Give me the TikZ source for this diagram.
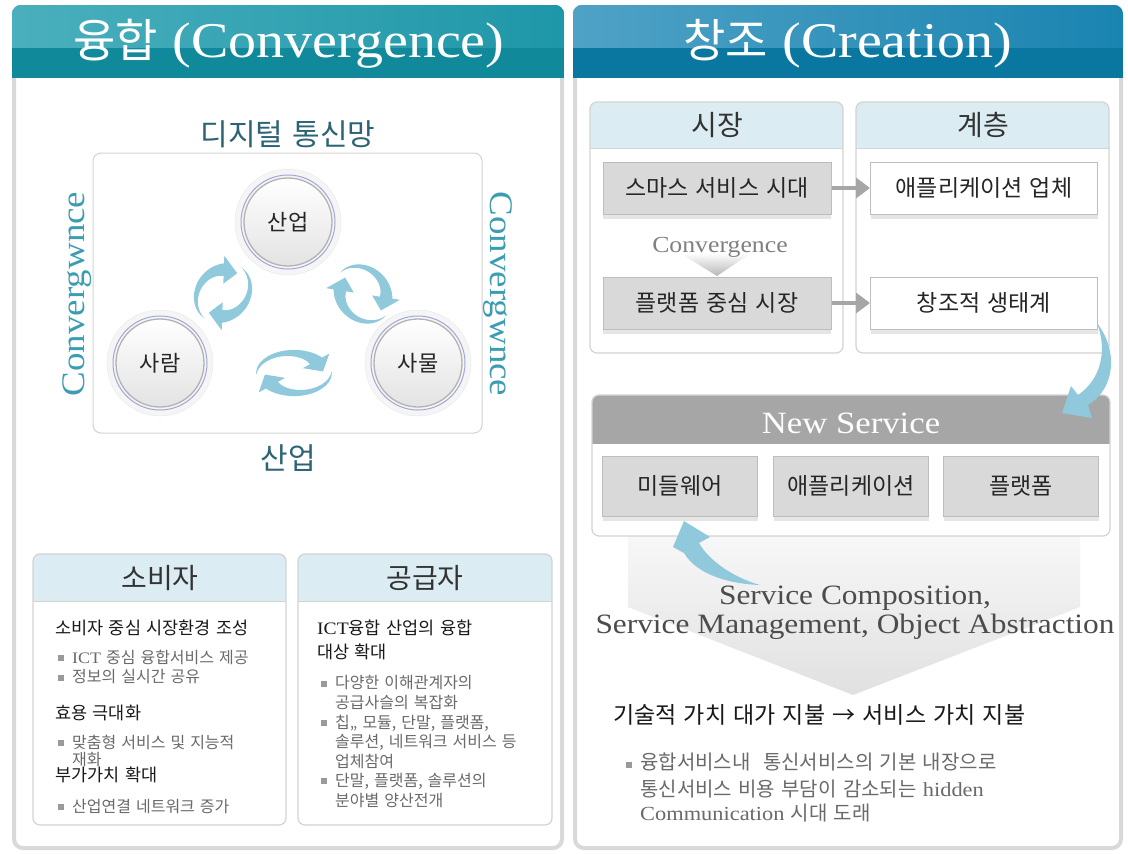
\documentclass[tikz,border=0pt]{standalone}
\usepackage{fontspec}
\setmainfont{Noto Sans CJK KR}[WordSpace=1.4]
\newfontfamily\en{Liberation Serif}[FakeStretch=1.12]
\usetikzlibrary{arrows.meta,shadows}
\newcommand\fs[1]{\fontsize{#1}{#1}\selectfont}
\definecolor{hdrL}{HTML}{10899A}
\definecolor{hdrLgA}{HTML}{4AAFBD}
\definecolor{hdrLgB}{HTML}{1E97A8}
\definecolor{hdrR}{HTML}{0A77A1}
\definecolor{hdrRgA}{HTML}{4FA2C6}
\definecolor{hdrRgB}{HTML}{1A84B0}
\definecolor{panelline}{HTML}{D9D9D9}
\definecolor{boxline}{HTML}{D3D3D3}
\definecolor{lightblue}{HTML}{DBEDF3}
\definecolor{arrowblue}{HTML}{8FC9DB}
\definecolor{darkteal}{HTML}{2D6475}
\definecolor{convteal}{HTML}{3C9DB2}
\definecolor{txtgray}{HTML}{6A6A6A}
\definecolor{bulc}{HTML}{9A9A9A}
\definecolor{gbox}{HTML}{D9D9D9}
\definecolor{gboxline}{HTML}{BDBDBD}
\definecolor{nshdr}{HTML}{A6A6A6}
\definecolor{ringc}{HTML}{A0A6D8}
\definecolor{halo}{HTML}{F5F5F5}
\definecolor{haloline}{HTML}{E8E8E8}
\newcommand\bul{\raisebox{2pt}{\textcolor{bulc}{\rule{6pt}{6pt}}}\hspace{8pt}}
\newcommand\mybox[5]{%
 \begin{scope}
 \clip[rounded corners=7pt] (#1,#2) rectangle (#3,#4);
 \fill[white] (#1,#2) rectangle (#3,#4);
 \fill[lightblue] (#1,#2) rectangle (#3,#5);
 \draw[boxline] (#1,#5) -- (#3,#5);
 \end{scope}
 \draw[boxline, line width=1.2pt, rounded corners=7pt] (#1,#2) rectangle (#3,#4);}
\tikzset{
 cyc/.pic={
  \foreach \rr in {0,180}{
   \fill[arrowblue,rotate=\rr] plot[domain=185:42,samples=30] (\x:35pt) -- (42:44pt) -- (5:27pt) -- (42:11pt) -- (42:20pt)
     -- plot[domain=42:185,samples=30] (\x:{(35-15*(185-\x)/143)*1pt}) -- cycle;
  }
 },
 circ/.style={circle, minimum size=88pt, draw=black!30, line width=1.3pt, top color=white, bottom color=black!11, font=\fs{22}, text=black!85, inner sep=0pt},
 hd/.style={font=\fs{28}, text=black!80, inner sep=0pt},
 hone/.style={anchor=west, inner sep=0pt, font=\fs{17.5}, text=black!90},
 bone/.style={anchor=west, inner sep=0pt, font=\fs{16}, text=txtgray},
 bthree/.style={anchor=west, inner sep=0pt, font=\fs{20}, text=txtgray},
 shd/.style={drop shadow={shadow xshift=0pt,shadow yshift=-5pt,fill=black,opacity=0.1}},
 gb/.style={shd, fill=gbox, draw=gboxline, line width=1pt, minimum width=228pt, minimum height=52pt, font=\fs{23}, text=black!85, inner sep=0pt},
 wb/.style={shd, fill=white, draw=gboxline, line width=1pt, minimum width=227pt, minimum height=52pt, font=\fs{23}, text=black!85, inner sep=0pt},
 gbs/.style={shd, fill=gbox, draw=gboxline, line width=1pt, minimum width=155pt, minimum height=60pt, font=\fs{23}, text=black!85, inner sep=0pt},
 garrow/.style={draw=nshdr, line width=4pt, -{Triangle[length=14pt,width=20pt]}}
}
\begin{document}
\begin{tikzpicture}[x=1pt,y=-1pt]
\useasboundingbox (0,0) rectangle (1128,854);
% ---------- left panel
\fill[white, rounded corners=9pt] (12,5) rectangle (564,850);
\draw[panelline, line width=4pt, rounded corners=9pt] (14,8) rectangle (562,848);
\begin{scope}
\clip[rounded corners=9pt] (12,5) rectangle (564,200);
\fill[hdrL] (12,5) rectangle (564,78);
\shade[left color=hdrLgA, right color=hdrLgB] (12,5) rectangle (564,47);
\end{scope}
\node[text=white, inner sep=0pt] (tl) at (289,44) {\fs{46}융합 {\en\fs{50}(Convergence)}};
% ---------- right panel
\fill[white, rounded corners=9pt] (573,5) rectangle (1123,850);
\draw[panelline, line width=4pt, rounded corners=9pt] (575,8) rectangle (1121,848);
\begin{scope}
\clip[rounded corners=9pt] (573,5) rectangle (1123,200);
\fill[hdrR] (573,5) rectangle (1123,78);
\shade[left color=hdrRgA, right color=hdrRgB] (573,5) rectangle (1123,47);
\end{scope}
\node[text=white, inner sep=0pt] (tr) at (848,44) {\fs{46}창조 {\en\fs{50}(Creation)}};

% ---------- left diagram
\node[font=\fs{30}, text=darkteal] (dig) at (288,134) {디지털 통신망};
\draw[boxline, line width=1pt, rounded corners=8pt] (93,153) rectangle (482,433);
\node[font=\fs{30}, text=darkteal] (ind) at (288,458) {산업};
\node[rotate=90, font=\en\fs{33}, text=convteal] (cvl) at (77,294) {Convergwnce};
\node[rotate=-90, font=\en\fs{33}, text=convteal] (cvr) at (498,294) {Convergwnce};
\foreach \cx/\cy in {288/222,160/363,418/363}{
  \fill[halo, draw=haloline] (\cx,\cy) circle[radius=53pt];
  \draw[ringc, line width=1pt] (\cx,\cy) circle[radius=47pt];
}
\node[circ] (ca) at (288,222) {산업};
\node[circ] (cb) at (160,363) {사람};
\node[circ] (cc) at (418,363) {사물};
\pic[rotate=50, xscale=0.9, yscale=0.78] at (223,293) {cyc};
\pic[rotate=-47, xscale=0.9, yscale=0.78] at (363,294) {cyc};
\pic[xscale=1.08, yscale=0.66] at (294,373) {cyc};

% ---------- consumer / supplier boxes
\mybox{33}{554}{286}{825}{601}
\mybox{298}{554}{552}{825}{601}
\node[hd] (s0) at (160,578) {소비자};
\node[hone] (s1) at (55,628) {소비자 중심 시장환경 조성};
\node[bone] (s2) at (58,657) {\bul{\en ICT} 중심 융합서비스 제공};
\node[bone] (s3) at (58,677) {\bul 정보의 실시간 공유};
\node[hone] (s4) at (55,713) {효용 극대화};
\node[bone] (s5) at (58,742) {\bul 맞춤형 서비스 및 지능적};
\node[bone] (s6) at (72,760) {재화};
\node[hone] (s7) at (55,775) {부가가치 확대};
\node[bone] (s8) at (58,806) {\bul 산업연결 네트워크 증가};

\node[hd] (g0) at (425,578) {공급자};
\node[hone] (g1) at (317,628) {{\en ICT}융합 산업의 융합};
\node[hone] (g2) at (317,652) {대상 확대};
\node[bone] (g3) at (321,683) {\bul 다양한 이해관계자의};
\node[bone] (g4) at (335,703) {공급사슬의 복잡화};
\node[bone] (g5) at (321,723) {\bul 칩,, 모듈, 단말, 플랫폼,};
\node[bone] (g6) at (335,742) {솔루션, 네트워크 서비스 등};
\node[bone] (g7) at (335,761) {업체참여};
\node[bone] (g8) at (321,781) {\bul 단말, 플랫폼, 솔루션의};
\node[bone] (g9) at (335,800) {분야별 양산전개};

% ---------- right: market / layer
\mybox{590}{102}{843}{353}{148}
\mybox{856}{102}{1109}{353}{148}
\node[hd] (m0) at (717,125) {시장};
\node[hd] (l0) at (983,125) {계층};
\shade[top color=white, bottom color=black!28] (680,253) -- (751,253) -- (717,276) -- cycle;
\node[font=\en\fs{23}, text=black!50] (cv) at (720,247) {Convergence};
\node[gb] (sm) at (717,188) {스마스 서비스 시대};
\node[gb] (pf) at (717,303) {플랫폼 중심 시장};
\node[wb] (ap) at (984,188) {애플리케이션 업체};
\node[wb] (ec) at (984,303) {창조적 생태계};
\draw[garrow] (sm) -- (ap);
\draw[garrow] (pf) -- (ec);

% ---------- chevron + new service
\shade[top color=black!3, bottom color=black!12] (628,536) -- (628,607) -- (853,695) -- (1080,607) -- (1080,536) -- cycle;
\begin{scope}
\clip[rounded corners=7pt] (592,395) rectangle (1110,536);
\fill[white] (592,395) rectangle (1110,536);
\fill[nshdr] (592,395) rectangle (1110,444);
\end{scope}
\draw[boxline, line width=1.2pt, rounded corners=7pt] (592,395) rectangle (1110,536);
\node[font=\en\fs{31}, text=white] (ns) at (851,423) {New Service};
\node[gbs] (mw) at (680,486) {미들웨어};
\node[gbs] (aq) at (851,486) {애플리케이션};
\node[gbs] (pq) at (1021,486) {플랫폼};

% blue curved arrows
\fill[arrowblue] (1097,323) .. controls (1118,350) and (1116,388) .. (1088,405) -- (1092,418) -- (1062,413) -- (1071,386) -- (1078,395) .. controls (1100,380) and (1108,352) .. (1097,323) -- cycle;
\fill[arrowblue] (760,585) .. controls (730,584) and (697,575) .. (684,553) -- (673,547) -- (684,521) -- (710,537) -- (699,543) .. controls (710,562) and (735,578) .. (760,585) -- cycle;

\node[font=\en\fs{28}, text=black!70] (sc1) at (855,598) {Service Composition,};
\node[font=\en\fs{28}, text=black!70] (sc2) at (855,627) {Service Management, Object Abstraction};

\node[anchor=west, inner sep=0pt, font=\fs{23}, text=black!90] (tv) at (613,715) {기술적 가치 대가 지불 → 서비스 가치 지불};
\node[bthree] (r1) at (626,762) {\bul 융합서비스내\ \ 통신서비스의 기본 내장으로};
\node[bthree] (r2) at (640,789) {통신서비스 비용 부담이 감소되는 {\en hidden}};
\node[bthree] (r3) at (640,813) {{\en Communication} 시대 도래};
\end{tikzpicture}
\end{document}
